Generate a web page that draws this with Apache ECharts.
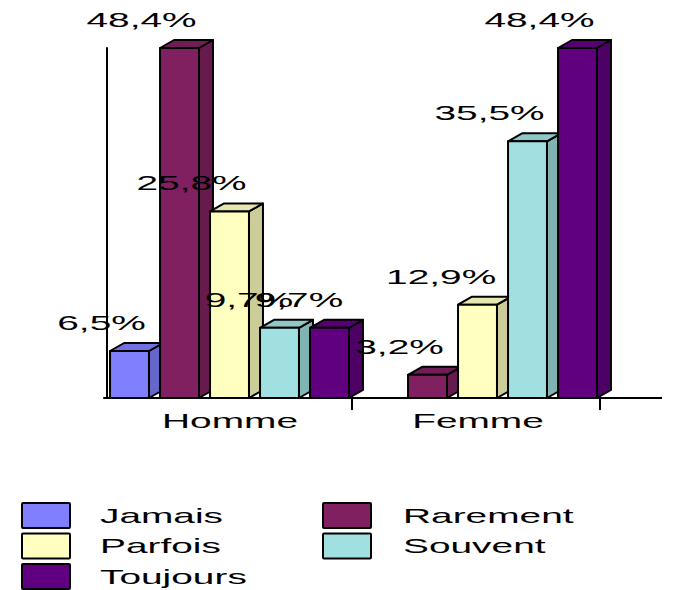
<!DOCTYPE html>
<html>
<head>
<meta charset="utf-8">
<title>Fréquence par sexe</title>
<script src="https://cdn.jsdelivr.net/npm/echarts@6/dist/echarts.min.js"></script>
<style>
  html, body { margin: 0; padding: 0; background: #ffffff; }
  #chart { width: 691px; height: 590px; }
</style>
</head>
<body>
<div id="chart"></div>
<script>
// Categories and percentages per answer
const categories = ['Homme', 'Femme'];
const seriesNames = ['Jamais', 'Rarement', 'Parfois', 'Souvent', 'Toujours'];
const jamais   = [6.5, null];
const rarement = [48.4, 3.2];
const parfois  = [25.8, 12.9];
const souvent  = [9.7, 35.5];
const toujours = [9.7, 48.4];
const seriesValues = [jamais, rarement, parfois, souvent, toujours];

// Face colours of the prisms: front, right side, top
const frontColors = ['#8080ff', '#802060', '#ffffc0', '#a0e0e0', '#600080'];
const sideColors  = ['#6666cc', '#661a4d', '#cccc99', '#80b3b3', '#4d0066'];
const topColors   = ['#7070e0', '#701c55', '#e6e6b0', '#90c8c8', '#560072'];

const FONT = '21px "Liberation Sans", Arial, sans-serif';
const STRETCH = 1.85;   // wide lettering
const DEPTH_X = 14, DEPTH_Y = 8;

function fmt(v) {
  return v.toFixed(1).replace('.', ',') + '%';
}

function renderPrism(params, api) {
  const cat = api.value(0);
  const val = api.value(1);
  if (val == null || isNaN(val)) return;
  const idx = params.seriesIndex;
  const base = api.coord([cat, 0]);
  const top = api.coord([cat, val]);
  const band = api.size([1, 0])[0];
  const cx = base[0] + 1.5 + (idx - 2) * band * 0.2016;
  const w = band * 0.157;
  const xl = cx - w / 2, xr = cx + w / 2;
  const yb = base[1], yt = top[1];
  const stroke = { stroke: '#000', lineWidth: 2, lineJoin: 'round' };
  const h = yb - yt;
  const lblShift = -28 - 10 * Math.min(1, Math.max(0, (h - 60) / 40));
  return {
    type: 'group',
    children: [
      {
        type: 'polygon',
        shape: { points: [[xr, yb], [xr + DEPTH_X, yb - DEPTH_Y], [xr + DEPTH_X, yt - DEPTH_Y], [xr, yt]] },
        style: Object.assign({ fill: sideColors[idx] }, stroke)
      },
      {
        type: 'polygon',
        shape: { points: [[xl, yt], [xl + DEPTH_X, yt - DEPTH_Y], [xr + DEPTH_X, yt - DEPTH_Y], [xr, yt]] },
        style: Object.assign({ fill: topColors[idx] }, stroke)
      },
      {
        type: 'rect',
        shape: { x: xl, y: yt, width: w, height: yb - yt },
        style: Object.assign({ fill: frontColors[idx] }, stroke)
      },
      {
        type: 'text',
        x: cx + lblShift,
        y: yt - 28,
        scaleX: STRETCH,
        z2: 100,
        style: {
          text: fmt(val),
          font: FONT,
          fill: '#000',
          align: 'center',
          verticalAlign: 'middle',
          textAlign: 'center',
          textVerticalAlign: 'middle'
        }
      }
    ]
  };
}

const chart = echarts.init(document.getElementById('chart'), null, { renderer: 'svg' });

const option = {
  backgroundColor: '#ffffff',
  animation: false,
  grid: { left: 104, right: 91, top: 48, bottom: 192 },
  xAxis: {
    type: 'category',
    data: categories,
    axisLine: { show: true, lineStyle: { color: '#000', width: 2 } },
    axisTick: { show: false },
    axisLabel: { show: false },
    splitLine: { show: false }
  },
  yAxis: {
    type: 'value',
    min: 0,
    max: 48.4,
    offset: -3,
    axisLine: { show: true, lineStyle: { color: '#000', width: 2 } },
    axisTick: { show: false },
    axisLabel: { show: false },
    splitLine: { show: false }
  },
  series: seriesNames.map((name, i) => ({
    name: name,
    type: 'custom',
    renderItem: renderPrism,
    data: seriesValues[i].map((v, c) => [c, v == null ? '-' : v]),
    encode: { x: 0, y: 1 },
    clip: false
  }))
};

chart.setOption(option);

// Category names, boundary ticks, floor line extension and the legend
const graphics = [];
const centers = categories.map((_, c) => chart.convertToPixel({ gridIndex: 0 }, [c, 0]));
const band = centers[1][0] - centers[0][0];
categories.forEach((name, c) => {
  const p = centers[c];
  graphics.push({
    type: 'text',
    x: p[0] + 2,
    y: p[1] + 23,
    scaleX: STRETCH,
    style: {
      text: name, font: FONT, fill: '#000',
      align: 'center', verticalAlign: 'middle',
      textAlign: 'center', textVerticalAlign: 'middle'
    }
  });
  // tick on the right boundary of each category
  const tx = Math.round(p[0] + band / 2);
  graphics.push({
    type: 'line',
    shape: { x1: tx, y1: p[1], x2: tx, y2: p[1] + 12 },
    style: { stroke: '#000', lineWidth: 2 }
  });
});
const last = centers[centers.length - 1];
graphics.push({
  type: 'line',
  shape: { x1: last[0] + band / 2, y1: last[1], x2: last[0] + band / 2 + 62, y2: last[1] },
  style: { stroke: '#000', lineWidth: 2 }
});

seriesNames.forEach((name, i) => {
  const col = i % 2, row = Math.floor(i / 2);
  const rx = col ? 323 : 22;
  const ry = 503 + row * 30.5;
  graphics.push({
    type: 'rect',
    shape: { x: rx, y: ry, width: 48, height: 25, r: 1 },
    style: { fill: frontColors[i], stroke: '#000', lineWidth: 2 }
  });
  graphics.push({
    type: 'text',
    x: col ? 403 : 100,
    y: ry + 12.5,
    scaleX: STRETCH,
    style: {
      text: name, font: FONT, fill: '#000',
      align: 'left', verticalAlign: 'middle',
      textAlign: 'left', textVerticalAlign: 'middle'
    }
  });
});

chart.setOption({ graphic: { elements: graphics } });
</script>
</body>
</html>
